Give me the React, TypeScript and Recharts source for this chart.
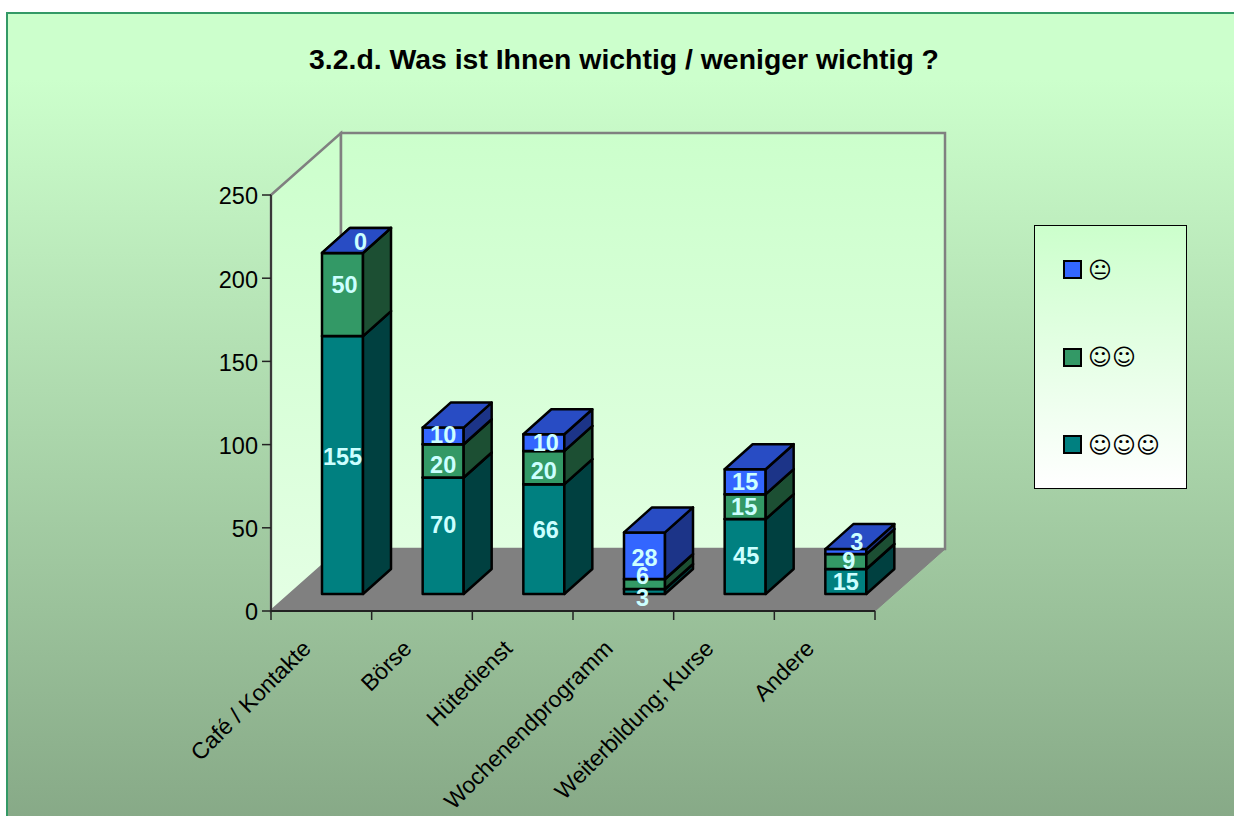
import { BarChart, Bar, XAxis, YAxis, Legend, LabelList } from "recharts";

const categories = ["Café / Kontakte", "Börse", "Hütedienst", "Wochenendprogramm", "Weiterbildung; Kurse", "Andere"];
const threeSmiles = [155, 70, 66, 3, 45, 15];
const twoSmiles = [50, 20, 20, 6, 15, 9];
const neutral = [0, 10, 10, 28, 15, 3];
const yTicks = [0, 50, 100, 150, 200, 250];

const chartData = categories.map((name, i) => ({
  name,
  three: threeSmiles[i],
  two: twoSmiles[i],
  one: neutral[i],
}));

const FONT = "'Liberation Sans', Arial, sans-serif";
const LEFT = 271;
const TOP = 195;
const RIGHT = 875;
const BOTTOM = 611;
const STEP = (RIGHT - LEFT) / categories.length;
// projection of the fake 3D box
const WALL_DX = 70;
const WALL_DY = -62;
const BAR_SHIFT_X = 21;
const BAR_SHIFT_Y = -17;
const DEPTH_X = 28;
const DEPTH_Y = -25;

// Excel pushes some data labels around, these are [dx, dy] from the middle of the segment
const threeNudge = [[0, -8], [0, -11], [2, -9], [-2, 6], [1, -1], [0, 0]];
const twoNudge = [[2, -9], [0, 4], [0, 3], [-2, -8], [-1, 0], [3, -1]];
const oneNudge = [[18, -11], [0, -1], [2, 0], [0, 2], [0, 0], [11, -10]];

function Box3D(props: any) {
  const { x, y, width, height, fill, side, top } = props;
  const l = x + BAR_SHIFT_X;
  const r = l + width;
  const t = y + BAR_SHIFT_Y;
  const b = t + height;
  const line = { stroke: "#000", strokeWidth: 2.5, strokeLinejoin: "round" as const };
  return (
    <g>
      <rect x={l} y={t} width={width} height={height} fill={fill} {...line} />
      <polygon
        points={`${r},${t} ${r + DEPTH_X},${t + DEPTH_Y} ${r + DEPTH_X},${b + DEPTH_Y} ${r},${b}`}
        fill={side}
        {...line}
      />
      <polygon
        points={`${l},${t} ${l + DEPTH_X},${t + DEPTH_Y} ${r + DEPTH_X},${t + DEPTH_Y} ${r},${t}`}
        fill={top}
        {...line}
      />
    </g>
  );
}

function segmentLabel(nudge: number[][]) {
  return (props: any) => {
    const { x, y, width, height, value, index } = props;
    const [dx, dy] = nudge[index];
    return (
      <text
        x={x + BAR_SHIFT_X + width / 2 + dx}
        y={y + BAR_SHIFT_Y + height / 2 + dy}
        fill="#CCFFFF"
        fontSize={23.5}
        fontWeight="bold"
        fontFamily={FONT}
        textAnchor="middle"
        dominantBaseline="central"
      >
        {value}
      </text>
    );
  };
}

function CategoryTick(props: any) {
  const { x, payload, index } = props;
  const edge = x - STEP / 2;
  return (
    <g>
      <line x1={edge} y1={BOTTOM} x2={edge} y2={BOTTOM + 9} stroke="#222" strokeWidth={1.5} />
      {index === categories.length - 1 && (
        <line x1={edge + STEP} y1={BOTTOM} x2={edge + STEP} y2={BOTTOM + 9} stroke="#222" strokeWidth={1.5} />
      )}
      <text
        transform={`translate(${x - 9},${BOTTOM + 39}) rotate(-45)`}
        textAnchor="end"
        fontSize={23}
        fontFamily={FONT}
        fill="#000"
      >
        {payload.value}
      </text>
    </g>
  );
}

function LegendBox(props: any) {
  const rows = [...(props.payload || [])].reverse();
  return (
    <div
      style={{
        width: 153,
        height: 264,
        boxSizing: "border-box",
        border: "1px solid #000",
        background: "linear-gradient(#ccffcc, #ffffff)",
        position: "relative",
      }}
    >
      {rows.map((entry: any, i: number) => (
        <div
          key={entry.value}
          style={{ position: "absolute", left: 28, top: 26.5 + i * 87.5, display: "flex", alignItems: "center", height: 34 }}
        >
          <span
            style={{
              width: 19,
              height: 19,
              boxSizing: "border-box",
              border: "2px solid #000",
              background: entry.color,
              marginRight: 6,
            }}
          />
          <span style={{ fontFamily: "'DejaVu Sans'", fontSize: 23, lineHeight: "34px", color: "#000" }}>{entry.value}</span>
        </div>
      ))}
    </div>
  );
}

export default function App() {
  return (
    <div style={{ position: "absolute", left: 0, top: 0, width: 1234, height: 816, overflow: "hidden", background: "#fff" }}>
      <div
        style={{
          position: "absolute",
          left: 6,
          top: 12,
          width: 1240,
          height: 820,
          boxSizing: "border-box",
          border: "2px solid #339966",
          background: "linear-gradient(#ccffcc 0%, #ccffcc 8%, #86a886 100%)",
        }}
      />
      <BarChart
        width={1234}
        height={816}
        data={chartData}
        margin={{ top: TOP, right: 1234 - RIGHT, bottom: 816 - BOTTOM - 100, left: LEFT - 60 }}
        style={{ position: "absolute", left: 0, top: 0 }}
      >
        <defs>
          <linearGradient id="wall" gradientUnits="userSpaceOnUse" x1="0" y1={TOP + WALL_DY} x2="0" y2={BOTTOM}>
            <stop offset="0%" stopColor="#ccffcc" />
            <stop offset="100%" stopColor="#e4ffe4" />
          </linearGradient>
        </defs>
        <text x={624} y={69} textAnchor="middle" fontSize={28.4} fontWeight="bold" fontFamily={FONT} fill="#000">
          3.2.d. Was ist Ihnen wichtig / weniger wichtig ?
        </text>
        <polygon
          points={`${LEFT},${TOP} ${LEFT + WALL_DX},${TOP + WALL_DY} ${LEFT + WALL_DX},${BOTTOM + WALL_DY} ${LEFT},${BOTTOM}`}
          fill="url(#wall)"
          stroke="#808080"
          strokeWidth={2.5}
        />
        <rect
          x={LEFT + WALL_DX}
          y={TOP + WALL_DY}
          width={RIGHT - LEFT}
          height={BOTTOM - TOP}
          fill="url(#wall)"
          stroke="#808080"
          strokeWidth={2.5}
        />
        <polygon
          points={`${LEFT},${BOTTOM} ${LEFT + WALL_DX},${BOTTOM + WALL_DY} ${RIGHT + WALL_DX},${BOTTOM + WALL_DY} ${RIGHT},${BOTTOM}`}
          fill="#808080"
          stroke="#808080"
        />
        <XAxis
          dataKey="name"
          interval={0}
          height={100}
          tickLine={false}
          tick={<CategoryTick />}
          axisLine={{ stroke: "#222", strokeWidth: 2 }}
        />
        <YAxis
          width={60}
          domain={[0, 250]}
          ticks={yTicks}
          tickSize={9}
          tickMargin={4}
          tick={{ fontSize: 23.5, fontFamily: FONT, fill: "#000", dy: 1 }}
          tickLine={{ stroke: "#222", strokeWidth: 1.5 }}
          axisLine={{ stroke: "#222", strokeWidth: 1.5 }}
        />
        <Bar
          dataKey="three"
          name="☺☺☺"
          stackId="a"
          barSize={41}
          fill="#008080"
          isAnimationActive={false}
          shape={(p: any) => <Box3D {...p} side="#004040" top="#006060" />}
        >
          <LabelList dataKey="three" content={segmentLabel(threeNudge)} />
        </Bar>
        <Bar
          dataKey="two"
          name="☺☺"
          stackId="a"
          barSize={41}
          fill="#339966"
          isAnimationActive={false}
          shape={(p: any) => <Box3D {...p} side="#1c4f33" top="#267350" />}
        >
          <LabelList dataKey="two" content={segmentLabel(twoNudge)} />
        </Bar>
        <Bar
          dataKey="one"
          name="😐"
          stackId="a"
          barSize={41}
          fill="#3366ff"
          isAnimationActive={false}
          shape={(p: any) => <Box3D {...p} side="#1c3488" top="#284cc4" />}
        >
          <LabelList dataKey="one" content={segmentLabel(oneNudge)} />
        </Bar>
        <Legend
          layout="horizontal"
          verticalAlign="middle"
          align="center"
          itemSorter={null}
          content={<LegendBox />}
          wrapperStyle={{ left: 1034, top: 225, width: 153, height: 264, bottom: "auto", right: "auto" }}
        />
      </BarChart>
    </div>
  );
}
